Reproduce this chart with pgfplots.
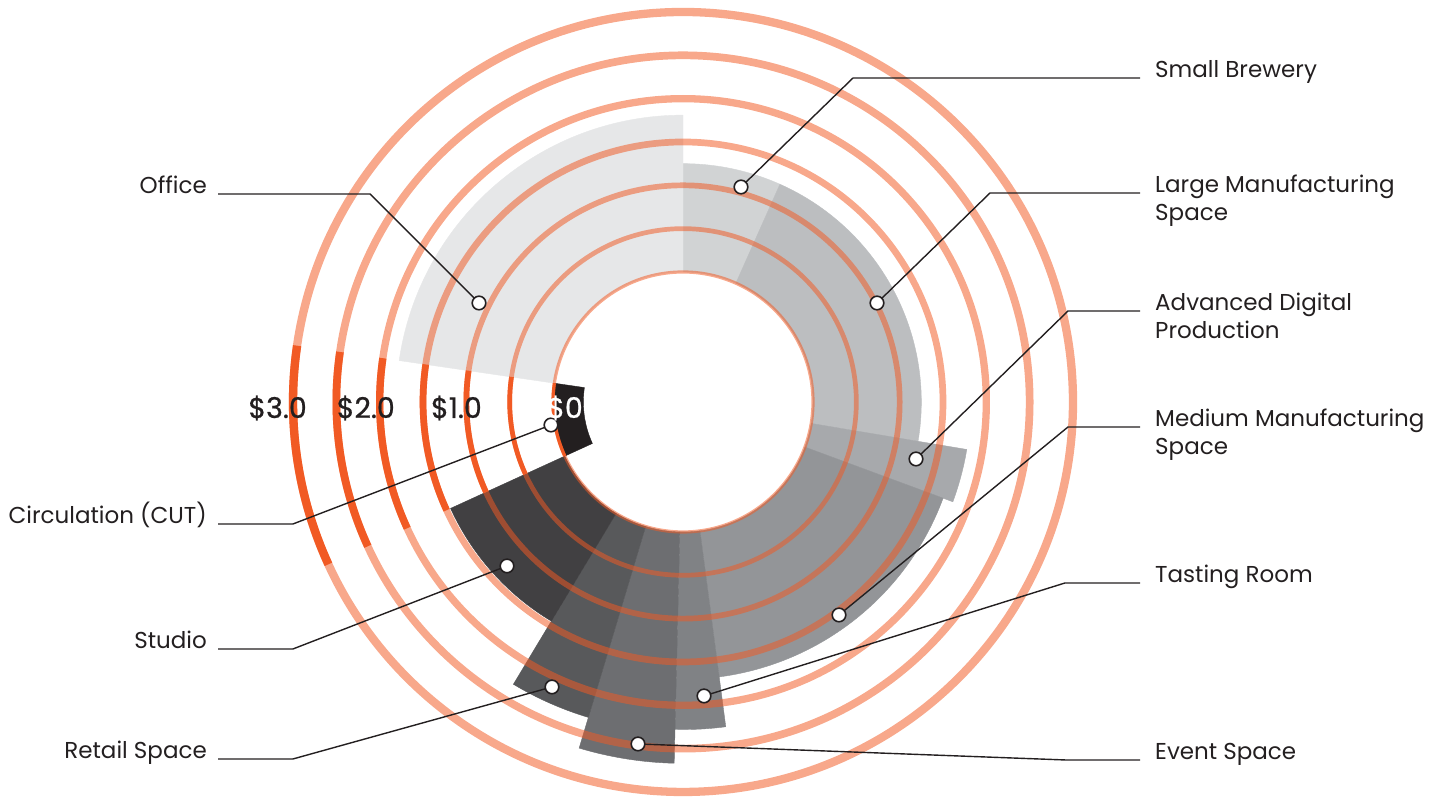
\documentclass[border=0pt]{standalone}
\usepackage{pgfplots}
\pgfplotsset{compat=1.18}
\usepackage{pgfplotstable}
\usepackage{fontspec}
\setmainfont{Poppins}
\newfontfamily\pmed{Poppins}[FakeBold=0.7]
\newcommand\labfont{\fontsize{23}{27}\selectfont}
\newcommand\valfont{\pmed\fontsize{28.5}{31}\selectfont}
\definecolor{cSB}{HTML}{D1D3D4}
\definecolor{cLM}{HTML}{BCBEC0}
\definecolor{cAD}{HTML}{A7A9AC}
\definecolor{cMM}{HTML}{939598}
\definecolor{cTR}{HTML}{808285}
\definecolor{cES}{HTML}{6D6E71}
\definecolor{cRS}{HTML}{58595B}
\definecolor{cST}{HTML}{414042}
\definecolor{cCI}{HTML}{231F20}
\definecolor{cOF}{HTML}{E6E7E8}
\definecolor{ring}{HTML}{F15A24}
\definecolor{ink}{HTML}{231F20}
\pgfdeclareplotmark{nothing}{}

% sectors: start angle, end angle (deg), value ($), colour
\pgfplotstableread{
a1 a2 v col
66 90 1.25 cSB
-9.5 66 1.25 cLM
-20.3 -9.5 1.82 cAD
-82.5 -20.3 1.70 cMM
-91.4 -82.5 2.28 cTR
-106.7 -91.4 2.67 cES
-121 -106.7 2.30 cRS
-155.4 -121 1.45 cST
-188.3 -155.4 -0.35 cCI
-270 -188.3 1.81 cOF
}\bars

% rings: value, line width, highlighted arc
\pgfplotstableread{
v w d1 d2
0 3.2 171.7 204.6
0.5 4.7 171.7 204.6
1 5.7 171.7 204.6
1.5 6.7 171.7 204.6
2 7.3 171.7 204.6
2.5 7.7 171.7 204.6
3 8.3 171.7 204.6
}\rings

\begin{document}
\begin{tikzpicture}
\begin{axis}[
  width=1440pt, height=804pt, scale only axis,
  xmin=-683, xmax=757, ymin=-402, ymax=402,
  axis lines=none, xtick=\empty, ytick=\empty,
  clip=false, clip mode=individual,
]
% bars
\pgfplotsinvokeforeach{0,...,9}{%
  \pgfplotstablegetelem{#1}{a1}\of\bars \let\aone\pgfplotsretval
  \pgfplotstablegetelem{#1}{a2}\of\bars \let\atwo\pgfplotsretval
  \pgfplotstablegetelem{#1}{v}\of\bars \let\vv\pgfplotsretval
  \pgfplotstablegetelem{#1}{col}\of\bars \let\cc\pgfplotsretval
  \pgfmathsetmacro\rout{130+86.67*\vv}%
  \edef\temp{\noexpand\addplot[only marks, mark=nothing, scatter,
     scatter/@pre marker code/.code={\noexpand\fill[color=\cc] (\aone:130pt)
       arc[start angle=\aone,end angle=\atwo,radius=130pt] -- (\atwo:\rout pt)
       arc[start angle=\atwo,end angle=\aone,radius=\rout pt] -- cycle;},
     scatter/@post marker code/.code={}] coordinates {(0,0)};}%
  \temp
}
% rings
\pgfplotsinvokeforeach{0,...,6}{%
  \pgfplotstablegetelem{#1}{v}\of\rings \let\vv\pgfplotsretval
  \pgfplotstablegetelem{#1}{w}\of\rings \let\ww\pgfplotsretval
  \pgfmathsetmacro\rr{130+86.67*\vv}%
  \edef\temp{\noexpand\addplot[only marks, mark=o, mark size=\rr pt,
     mark options={draw=ring, draw opacity=0.53, line width=\ww pt, fill=none}] coordinates {(0,0)};}%
  \temp
}
% highlighted arcs
\pgfplotsinvokeforeach{0,...,6}{%
  \pgfplotstablegetelem{#1}{v}\of\rings \let\vv\pgfplotsretval
  \pgfplotstablegetelem{#1}{w}\of\rings \let\ww\pgfplotsretval
  \pgfplotstablegetelem{#1}{d1}\of\rings \let\done\pgfplotsretval
  \pgfplotstablegetelem{#1}{d2}\of\rings \let\dtwo\pgfplotsretval
  \pgfmathsetmacro\rr{130+86.67*\vv}%
  \edef\temp{\noexpand\addplot[only marks, mark=nothing, scatter,
     scatter/@pre marker code/.code={\noexpand\draw[line width=\ww pt, draw=ring]
       (\done:\rr pt) arc[start angle=\done,end angle=\dtwo,radius=\rr pt];},
     scatter/@post marker code/.code={}] coordinates {(0,0)};}%
  \temp
}

% leader lines
\addplot[ink, line width=1.4pt] coordinates {(58,215) (170,324) (457,324)};
\addplot[ink, line width=1.4pt] coordinates {(194,99) (307,209) (457,209)};
\addplot[ink, line width=1.4pt] coordinates {(233,-57) (385,91) (457,91)};
\addplot[ink, line width=1.4pt] coordinates {(156,-213) (385,-25) (457,-25)};
\addplot[ink, line width=1.4pt] coordinates {(21,-294) (382,-181) (457,-181)};
\addplot[ink, line width=1.4pt] coordinates {(-45,-342) (382,-358) (457,-358)};
\addplot[ink, line width=1.4pt] coordinates {(-204,99) (-313,208) (-465,208)};
\addplot[ink, line width=1.4pt] coordinates {(-132,-23) (-390,-122) (-465,-122)};
\addplot[ink, line width=1.4pt] coordinates {(-176,-164) (-390,-247) (-465,-247)};
\addplot[ink, line width=1.4pt] coordinates {(-131,-285) (-390,-357) (-465,-357)};
% dots
\addplot[only marks, mark=*, mark size=6.8pt, mark options={fill=white, draw=ink, line width=1.6pt}]
  coordinates {(58,215) (194,99) (233,-57) (156,-213) (21,-294) (-45,-342) (-204,99) (-132,-23) (-176,-164) (-131,-285)};

% labels
\node[anchor=base west, ink, font=\labfont, inner sep=0pt] at (axis cs:472,324) {Small Brewery};
\node[anchor=base west, ink, font=\labfont, inner sep=0pt] at (axis cs:472,209) {Large Manufacturing};
\node[anchor=base west, ink, font=\labfont, inner sep=0pt] at (axis cs:472,181) {Space};
\node[anchor=base west, ink, font=\labfont, inner sep=0pt] at (axis cs:472,91) {Advanced Digital};
\node[anchor=base west, ink, font=\labfont, inner sep=0pt] at (axis cs:472,63) {Production};
\node[anchor=base west, ink, font=\labfont, inner sep=0pt] at (axis cs:472,-25) {Medium Manufacturing};
\node[anchor=base west, ink, font=\labfont, inner sep=0pt] at (axis cs:472,-53) {Space};
\node[anchor=base west, ink, font=\labfont, inner sep=0pt] at (axis cs:472,-181) {Tasting Room};
\node[anchor=base west, ink, font=\labfont, inner sep=0pt] at (axis cs:472,-358) {Event Space};
\node[anchor=base east, ink, font=\labfont, inner sep=0pt] at (axis cs:-476,208) {Office};
\node[anchor=base east, ink, font=\labfont, inner sep=0pt] at (axis cs:-476,-122) {Circulation (CUT)};
\node[anchor=base east, ink, font=\labfont, inner sep=0pt] at (axis cs:-476,-247) {Studio};
\node[anchor=base east, ink, font=\labfont, inner sep=0pt] at (axis cs:-476,-357) {Retail Space};
% value labels
\node[anchor=base east, ink, font=\valfont, inner sep=0pt] at (axis cs:-376,-16) {\$3.0};
\node[anchor=base east, ink, font=\valfont, inner sep=0pt] at (axis cs:-288,-16) {\$2.0};
\node[anchor=base east, ink, font=\valfont, inner sep=0pt] at (axis cs:-201,-16) {\$1.0};
\node[anchor=base east, white, font=\valfont, inner sep=0pt] at (axis cs:-100,-16) {\$0};
\end{axis}
\pgfresetboundingbox
\useasboundingbox (current axis.south west) rectangle (current axis.north east);
\end{tikzpicture}
\end{document}
